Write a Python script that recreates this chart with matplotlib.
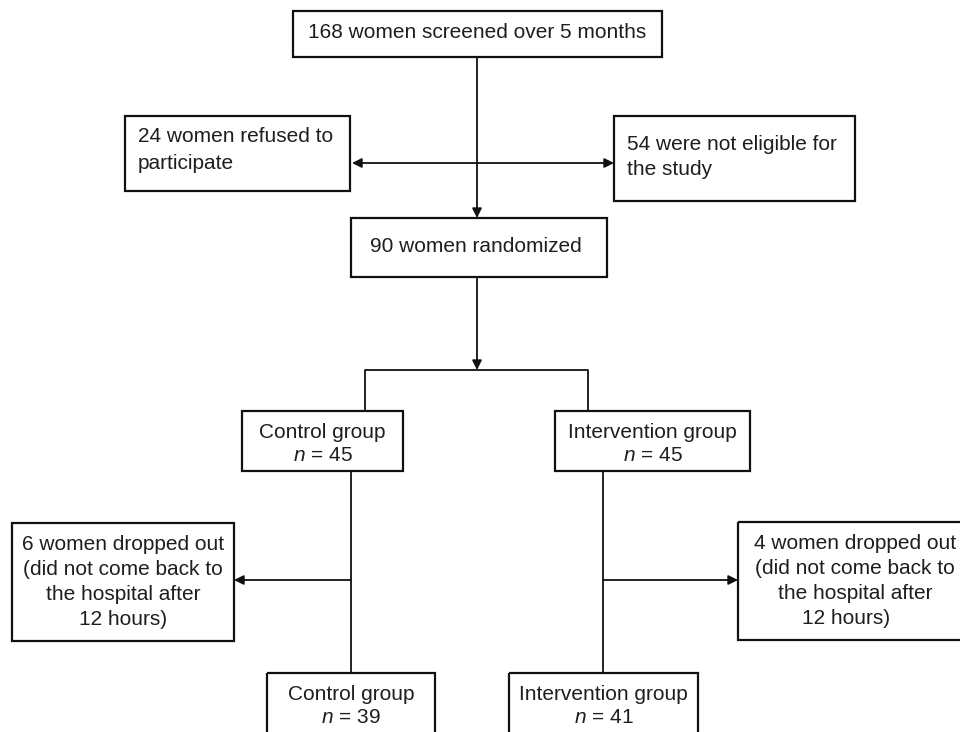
import matplotlib
matplotlib.use("Agg")
import matplotlib.pyplot as plt
from matplotlib.patches import Rectangle

plt.rcParams['font.family'] = ['Liberation Sans', 'DejaVu Sans']
plt.rcParams['mathtext.fontset'] = 'custom'
plt.rcParams['mathtext.rm'] = 'Liberation Sans'
plt.rcParams['mathtext.it'] = 'Liberation Sans:italic'

# ---- data ----
screened = 168
months = 5
refused = 24
not_eligible = 54
randomized = 90
group_names = ["Control group", "Intervention group"]
group_n = [45, 45]
dropped = [6, 4]
final_n = [39, 41]
dropout_reason = "(did not come back to\nthe hospital after\n12 hours)"

# ---- layout (pixel space) ----
W, H = 960, 732
fig = plt.figure(figsize=(W / 100, H / 100), dpi=100)
ax = fig.add_axes([0, 0, 1, 1])
ax.set_xlim(0, W)
ax.set_ylim(H, 0)
ax.axis('off')

TXT = '#1e1e1e'
FS = 15
BOX_LW = 1.6
LINE_LW = 1.3

def box(x0, y0, x1, y1):
    ax.add_patch(Rectangle((x0, y0), x1 - x0, y1 - y0, fill=False,
                           edgecolor='#111111', lw=BOX_LW, zorder=3))

def text(x, y, s, ha='center', ls=1.2):
    ax.text(x, y, s, ha=ha, va='center', fontsize=FS, color=TXT,
            linespacing=ls, multialignment=ha, zorder=4)

def line(pts):
    xs = [p[0] for p in pts]
    ys = [p[1] for p in pts]
    ax.plot(xs, ys, color='#111111', lw=LINE_LW, solid_capstyle='butt', zorder=2)

def arrow(x0, y0, x1, y1, style='-|>'):
    ax.annotate('', xy=(x1, y1), xytext=(x0, y0),
                arrowprops=dict(arrowstyle=style, color='#111111', lw=LINE_LW,
                                mutation_scale=14, shrinkA=0, shrinkB=0),
                zorder=2)

# top box
box(293, 11, 662, 57)
text(477, 32, f"{screened} women screened over {months} months")

# side boxes
box(125, 116, 350, 191)
text(138, 150, f"{refused} women refused to\nparticipate", ha='left', ls=1.53)
box(614, 116, 855, 201)
text(627, 157, f"{not_eligible} were not eligible for\nthe study", ha='left', ls=1.42)

# randomized
box(351, 218, 607, 277)
text(476, 246, f"{randomized} women randomized")

# connectors top
arrow(477, 57, 477, 218)
arrow(352, 163, 614, 163, style='<|-|>')
arrow(477, 277, 477, 370)
line([(365, 411), (365, 370), (588, 370), (588, 411)])

# group boxes
gx = [(242, 403), (555, 750)]
for (x0, x1), name, n in zip(gx, group_names, group_n):
    box(x0, 411, x1, 471)
    text((x0 + x1) / 2, 444, f"{name}\n$n$ = {n}", ls=1.31)

# vertical lines down
line([(351, 471), (351, 673)])
line([(603, 471), (603, 673)])

# dropout boxes
box(12, 523, 234, 641)
text(123, 582, f"{dropped[0]} women dropped out\n" + dropout_reason, ls=1.42)
arrow(351, 580, 234, 580)
box(738, 522, 980, 640)
text(855, 581, f"{dropped[1]} women dropped out\n" + dropout_reason + "   ", ls=1.42)
arrow(603, 580, 738, 580)

# final boxes
fx = [(267, 435), (509, 698)]
for (x0, x1), name, n in zip(fx, group_names, final_n):
    box(x0, 673, x1, 760)
    text((x0 + x1) / 2, 706, f"{name}\n$n$ = {n}", ls=1.31)

fig.savefig("out.png", dpi=100)
